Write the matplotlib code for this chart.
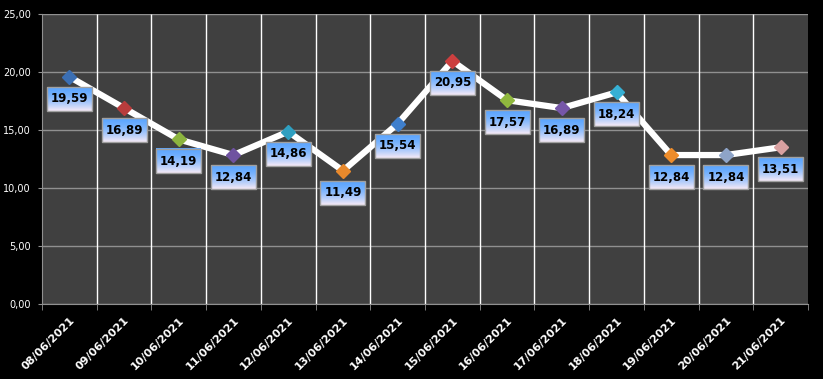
import matplotlib.pyplot as plt
import numpy as np

dates = ['08/06/2021', '09/06/2021', '10/06/2021', '11/06/2021', '12/06/2021',
         '13/06/2021', '14/06/2021', '15/06/2021', '16/06/2021', '17/06/2021',
         '18/06/2021', '19/06/2021', '20/06/2021', '21/06/2021']
values = [19.59, 16.89, 14.19, 12.84, 14.86, 11.49, 15.54, 20.95, 17.57, 16.89,
          18.24, 12.84, 12.84, 13.51]
marker_colors = ['#3b6fb4', '#b83c3c', '#8cb43e', '#6f52a0', '#2f9fc0', '#e8892c',
                 '#3f7fcc', '#cc3f3f', '#90b83e', '#7656a8', '#36b0d4', '#ee8c2a',
                 '#8ea4c8', '#d8a0a0']

def fmt(v):
    return ('%.2f' % v).replace('.', ',')

fig = plt.figure(figsize=(8.23, 3.79), dpi=100, facecolor='black')
ax = fig.add_axes([42/823, 75/379, 766/823, 290/379])
ax.set_facecolor('#404040')

n = len(dates)
x = np.arange(n)
ax.set_xlim(-0.5, n - 0.5)
ax.set_ylim(0, 25)

yt = np.arange(0, 26, 5)
ax.set_yticks(yt)
ax.set_yticklabels([fmt(v) for v in yt])
ax.yaxis.set_tick_params(labelsize=7, labelcolor='white', color='#909090', length=3, pad=5)
ax.grid(axis='y', color='#909090', linewidth=1)

ax.set_xticks(x)
ax.set_xticklabels(dates, rotation=45, ha='right', rotation_mode='anchor',
                   fontsize=8, fontweight='bold', color='white')
ax.tick_params(axis='x', which='major', length=0, pad=8)
ax.set_xticks(np.arange(-0.5, n), minor=True)
ax.tick_params(axis='x', which='minor', length=4, color='#909090')
ax.vlines(np.arange(0.5, n - 1), 0, 25, color='white', linewidth=1, zorder=1)
ax.set_axisbelow(True)

for s in ['top', 'right']:
    ax.spines[s].set_visible(False)
ax.spines['left'].set_color('#909090')
ax.spines['bottom'].set_color('#909090')

ax.plot(x, values, color='white', linewidth=4.5, zorder=3)
for xi, v, c in zip(x, values, marker_colors):
    ax.plot(xi, v, marker='D', markersize=7.5, color=c, markeredgecolor=c, zorder=4)

# gradient label boxes below each point
grad = (np.linspace(0, 1, 50) ** 1.6).reshape(-1, 1)
top_c = np.array([0x5c, 0xa6, 0xff]) / 255
bot_c = np.array([0xf6, 0xea, 0xf6]) / 255
img = top_c[None, None, :] * (1 - grad[:, :, None]) + bot_c[None, None, :] * grad[:, :, None]

texts = []
for xi, v in zip(x, values):
    t = ax.annotate(fmt(v), (xi, v), xytext=(0, -22), textcoords='offset pixels',
                    ha='center', va='center', fontsize=8.5, fontweight='bold',
                    color='black', zorder=6)
    texts.append(t)

fig.canvas.draw()
r = fig.canvas.get_renderer()
inv = ax.transData.inverted()
for t in texts:
    bb = t.get_window_extent(r)
    cx, cy = (bb.x0 + bb.x1) / 2, (bb.y0 + bb.y1) / 2
    x0, y0 = inv.transform((cx - 22.5, cy - 12))
    x1, y1 = inv.transform((cx + 22.5, cy + 12))
    ax.imshow(img, extent=(x0, x1, y0, y1), aspect='auto', zorder=5, origin='upper')
    ax.add_patch(plt.Rectangle((x0, y0), x1 - x0, y1 - y0, fill=False,
                               edgecolor='#a0a0a0', linewidth=1, zorder=5.5))

ax.set_xlim(-0.5, n - 0.5)
ax.set_ylim(0, 25)

fig.savefig('out.png', dpi=100, facecolor='black')
